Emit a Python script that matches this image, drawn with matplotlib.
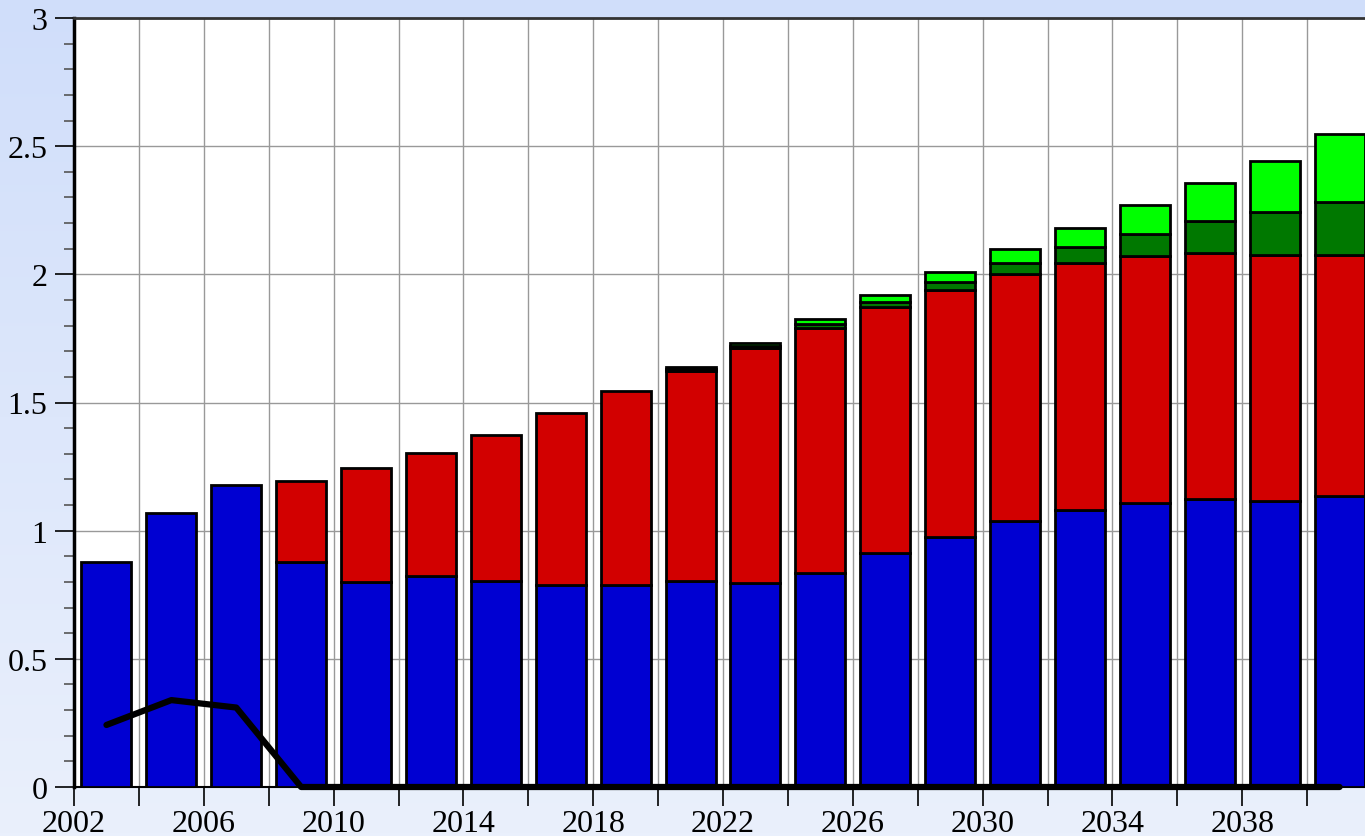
import numpy as np
import matplotlib.pyplot as plt
from matplotlib.ticker import MultipleLocator, FuncFormatter

plt.rcParams['font.family'] = ['Liberation Serif', 'DejaVu Serif']

years = [2003, 2005, 2007, 2009, 2011, 2013, 2015, 2017, 2019, 2021,
         2023, 2025, 2027, 2029, 2031, 2033, 2035, 2037, 2039, 2041]
blue = [0.878, 1.069, 1.178, 0.878, 0.800, 0.823, 0.804, 0.788, 0.788, 0.804,
        0.796, 0.835, 0.913, 0.975, 1.038, 1.081, 1.108, 1.124, 1.116, 1.135]
red = [0.0, 0.0, 0.0, 0.316, 0.445, 0.480, 0.569, 0.671, 0.757, 0.819,
       0.917, 0.956, 0.960, 0.964, 0.964, 0.963, 0.964, 0.959, 0.960, 0.941]
dark_green = [0.0, 0.0, 0.0, 0.0, 0.0, 0.0, 0.0, 0.0, 0.0, 0.008,
              0.009, 0.015, 0.019, 0.031, 0.042, 0.063, 0.086, 0.125, 0.167, 0.207]
light_green = [0.0, 0.0, 0.0, 0.0, 0.0, 0.0, 0.0, 0.0, 0.0, 0.008,
               0.010, 0.020, 0.028, 0.039, 0.055, 0.074, 0.113, 0.149, 0.200, 0.265]
line_vals = [0.242, 0.339, 0.310, 0.0, 0.0, 0.0, 0.0, 0.0, 0.0, 0.0,
             0.0, 0.0, 0.0, 0.0, 0.0, 0.0, 0.0, 0.0, 0.0, 0.0]

fig = plt.figure(figsize=(13.65, 8.37), dpi=100)

# background gradient
bg = fig.add_axes([0, 0, 1, 1], zorder=-10)
grad = np.linspace(0, 1, 256).reshape(-1, 1)
top_c = np.array([208, 222, 250]) / 255
bot_c = np.array([234, 240, 252]) / 255
img = top_c * (1 - grad[..., None]) + bot_c * grad[..., None]
bg.imshow(img, aspect='auto', extent=[0, 1, 0, 1])
bg.axis('off')

ax = fig.add_axes([74 / 1365, 49 / 837, 1298 / 1365, 769 / 837])
ax.set_facecolor('white')

x = np.array(years)
b = np.array(blue)
r = np.array(red)
dg = np.array(dark_green)
lg = np.array(light_green)
w = 1.54
kw = dict(width=w, edgecolor='black', linewidth=2, zorder=3)
ax.bar(x, b, color='#0000d2', **kw)
mask = r > 0
ax.bar(x[mask], r[mask], bottom=b[mask], color='#d20000', **kw)
mask = dg > 0
ax.bar(x[mask], dg[mask], bottom=(b + r)[mask], color='#007800', **kw)
mask = lg > 0
ax.bar(x[mask], lg[mask], bottom=(b + r + dg)[mask], color='#00ff00', **kw)

ax.plot(years, line_vals, color='black', linewidth=4.5, zorder=5,
        solid_capstyle='round', clip_on=False)

ax.set_xlim(2002, 2042)
ax.set_ylim(0, 3)
ax.xaxis.set_major_locator(MultipleLocator(2))
ax.xaxis.set_major_formatter(FuncFormatter(
    lambda v, p: f"{int(round(v))}" if int(round(v)) % 4 == 2 and v < 2041 else ""))
ax.yaxis.set_major_locator(MultipleLocator(0.5))
ax.yaxis.set_minor_locator(MultipleLocator(0.1))
ax.yaxis.set_major_formatter(FuncFormatter(lambda v, p: f"{v:g}"))

ax.grid(True, which='major', color='#999999', linewidth=1, zorder=0)
ax.set_axisbelow(True)

ax.tick_params(axis='both', which='major', labelsize=23, direction='out',
               length=14, width=1.2, color='black')
ax.tick_params(axis='y', which='major', pad=5)
ax.tick_params(axis='y', which='minor', length=7, width=1.2, color='#555555')
ax.tick_params(axis='x', which='major', pad=2)

ax.spines['right'].set_visible(False)
ax.spines['left'].set_linewidth(2.5)
ax.spines['bottom'].set_linewidth(1.5)
ax.spines['top'].set_linewidth(2)
ax.spines['top'].set_color('#333333')

fig.savefig('out.png', dpi=100)
